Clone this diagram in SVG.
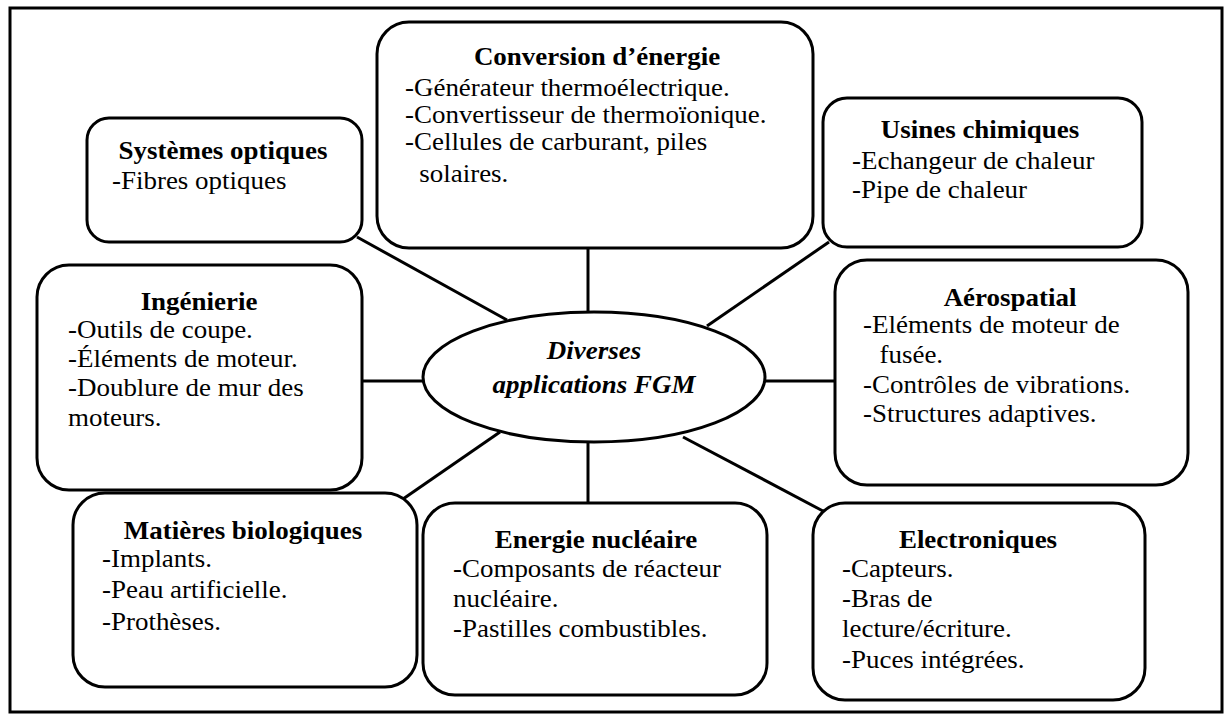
<svg xmlns="http://www.w3.org/2000/svg" width="1228" height="715" viewBox="0 0 1228 715">
<style>
.box{fill:#fff;stroke:#000;stroke-width:3}
.con{stroke:#000;stroke-width:3;fill:none}
.t{font-family:"Liberation Serif","Times New Roman",serif;font-size:24.5px;fill:#000}
.b{font-weight:bold;text-anchor:middle}
.c{font-weight:bold;font-style:italic;text-anchor:middle}
</style>
<rect x="0" y="0" width="1228" height="715" fill="#fff"/>
<rect x="10" y="8" width="1212" height="704" fill="none" stroke="#000" stroke-width="3"/>
<g id="connectors">
<line class="con" x1="588" y1="248" x2="588" y2="312"/>
<line class="con" x1="588" y1="443" x2="588" y2="503"/>
<line class="con" x1="362" y1="381" x2="423" y2="381"/>
<line class="con" x1="765" y1="381" x2="835" y2="381"/>
<line class="con" x1="357" y1="237" x2="507" y2="320"/>
<line class="con" x1="829" y1="242" x2="707" y2="326"/>
<line class="con" x1="500" y1="432" x2="403" y2="499"/>
<line class="con" x1="683" y1="437" x2="823" y2="511"/>
</g>
<g id="conversion">
<rect class="box" x="377" y="22" width="436" height="226" rx="32"/>
<text class="t b" transform="translate(597,65) scale(1.1,1)">Conversion d’énergie</text>
<text class="t" transform="translate(405,96) scale(1.1,1)"><tspan x="0" y="0">-Générateur thermoélectrique.</tspan><tspan x="0" y="27">-Convertisseur de thermoïonique.</tspan><tspan x="0" y="54">-Cellules de carburant, piles</tspan><tspan x="13" y="86">solaires.</tspan></text>
</g>
<g id="optiques">
<rect class="box" x="87" y="118" width="275" height="124" rx="22"/>
<text class="t b" transform="translate(223,159) scale(1.1,1)">Systèmes optiques</text>
<text class="t" transform="translate(112,189) scale(1.1,1)">-Fibres optiques</text>
</g>
<g id="usines">
<rect class="box" x="823" y="98" width="319" height="149" rx="24"/>
<text class="t b" transform="translate(980,138) scale(1.1,1)">Usines chimiques</text>
<text class="t" transform="translate(852,169) scale(1.1,1)"><tspan x="0" y="0">-Echangeur de chaleur</tspan><tspan x="0" y="29">-Pipe de chaleur</tspan></text>
</g>
<g id="ingenierie">
<rect class="box" x="37" y="265" width="325" height="225" rx="32"/>
<text class="t b" transform="translate(199,310) scale(1.1,1)">Ingénierie</text>
<text class="t" transform="translate(68,338) scale(1.1,1)"><tspan x="0" y="0">-Outils de coupe.</tspan><tspan x="0" y="29">-Éléments de moteur.</tspan><tspan x="0" y="58">-Doublure de mur des</tspan><tspan x="0" y="88">moteurs.</tspan></text>
</g>
<g id="center">
<ellipse class="box" cx="594" cy="377" rx="171" ry="65"/>
<text class="t c" transform="translate(594,359) scale(1.1,1)">Diverses</text>
<text class="t c" transform="translate(594,393) scale(1.1,1)">applications FGM</text>
</g>
<g id="aerospatial">
<rect class="box" x="835" y="260" width="353" height="225" rx="32"/>
<text class="t b" transform="translate(1010,306) scale(1.1,1)">Aérospatial</text>
<text class="t" transform="translate(863,333) scale(1.1,1)"><tspan x="0" y="0">-Eléments de moteur de</tspan><tspan x="15" y="30">fusée.</tspan><tspan x="0" y="60">-Contrôles de vibrations.</tspan><tspan x="0" y="89">-Structures adaptives.</tspan></text>
</g>
<g id="biologiques">
<rect class="box" x="73" y="493" width="344" height="194" rx="32"/>
<text class="t b" transform="translate(243,539) scale(1.1,1)">Matières biologiques</text>
<text class="t" transform="translate(102,567) scale(1.1,1)"><tspan x="0" y="0">-Implants.</tspan><tspan x="0" y="31">-Peau artificielle.</tspan><tspan x="0" y="63">-Prothèses.</tspan></text>
</g>
<g id="nucleaire">
<rect class="box" x="423" y="503" width="344" height="192" rx="32"/>
<text class="t b" transform="translate(596,548) scale(1.1,1)">Energie nucléaire</text>
<text class="t" transform="translate(453,577) scale(1.1,1)"><tspan x="0" y="0">-Composants de réacteur</tspan><tspan x="0" y="30">nucléaire.</tspan><tspan x="0" y="60">-Pastilles combustibles.</tspan></text>
</g>
<g id="electroniques">
<rect class="box" x="813" y="503" width="332" height="197" rx="32"/>
<text class="t b" transform="translate(978,548) scale(1.1,1)">Electroniques</text>
<text class="t" transform="translate(842,577) scale(1.1,1)"><tspan x="0" y="0">-Capteurs.</tspan><tspan x="0" y="30">-Bras de</tspan><tspan x="0" y="60">lecture/écriture.</tspan><tspan x="0" y="91">-Puces intégrées.</tspan></text>
</g>
</svg>
